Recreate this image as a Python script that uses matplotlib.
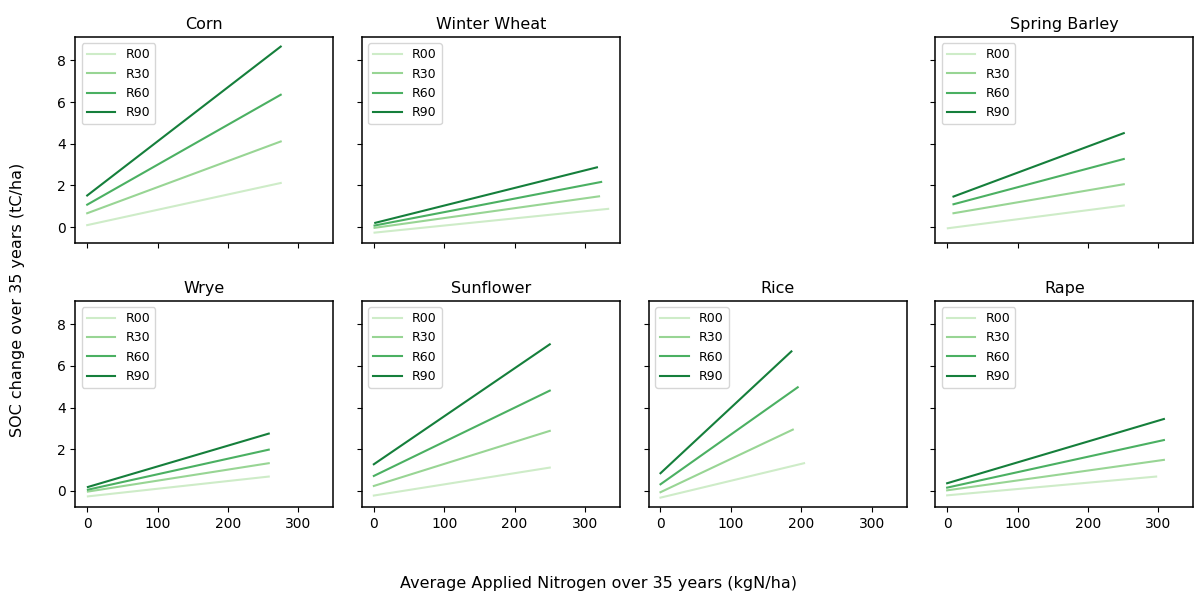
import matplotlib
matplotlib.use("Agg")
import matplotlib.pyplot as plt
import numpy as np

# crops laid out on a 2x4 grid, None = empty panel
crops = ["Corn", "Winter Wheat", None, "Spring Barley",
         "Wrye", "Sunflower", "Rice", "Rape"]
rates = ["R00", "R30", "R60", "R90"]

# x start / end (kgN/ha) per crop and rate
x_start = {
    "Corn":          [0, 0, 0, 0],
    "Winter Wheat":  [1, 1, 1, 2],
    "Spring Barley": [1, 9, 9, 9],
    "Wrye":          [1, 1, 1, 1],
    "Sunflower":     [0, 0, 0, 0],
    "Rice":          [0, 0, 0, 0],
    "Rape":          [0, 0, 0, 0],
}
x_end = {
    "Corn":          [275, 275, 275, 275],
    "Winter Wheat":  [333, 320, 323, 317],
    "Spring Barley": [251, 251, 251, 251],
    "Wrye":          [258, 258, 258, 258],
    "Sunflower":     [250, 250, 250, 250],
    "Rice":          [204, 188, 195, 186],
    "Rape":          [297, 308, 308, 308],
}
# SOC change (tC/ha) at start / end
y_start = {
    "Corn":          [0.10, 0.67, 1.08, 1.52],
    "Winter Wheat":  [-0.26, -0.03, 0.08, 0.21],
    "Spring Barley": [-0.05, 0.67, 1.10, 1.47],
    "Wrye":          [-0.26, -0.03, 0.06, 0.19],
    "Sunflower":     [-0.22, 0.24, 0.72, 1.28],
    "Rice":          [-0.32, -0.06, 0.32, 0.85],
    "Rape":          [-0.21, 0.03, 0.16, 0.37],
}
y_end = {
    "Corn":          [2.12, 4.11, 6.35, 8.66],
    "Winter Wheat":  [0.88, 1.48, 2.17, 2.87],
    "Spring Barley": [1.04, 2.06, 3.27, 4.51],
    "Wrye":          [0.69, 1.33, 1.98, 2.75],
    "Sunflower":     [1.12, 2.88, 4.81, 7.03],
    "Rice":          [1.33, 2.94, 4.97, 6.69],
    "Rape":          [0.69, 1.49, 2.44, 3.45],
}

colors = [plt.cm.Greens(v) for v in [0.22, 0.4, 0.6, 0.8]]

fig, axes = plt.subplots(2, 4, figsize=(11.98, 6.0), dpi=100, sharex=True, sharey=True)
fig.subplots_adjust(left=0.063, right=0.996, top=0.938, bottom=0.155,
                    wspace=0.112, hspace=0.28)

for ax, crop in zip(axes.flat, crops):
    if crop is None:
        ax.axis("off")
        continue
    for i, r in enumerate(rates):
        ax.plot([x_start[crop][i], x_end[crop][i]],
                [y_start[crop][i], y_end[crop][i]],
                color=colors[i], lw=1.5, label=r)
    ax.set_title(crop, fontsize=11.5)
    ax.legend(loc="upper left", fontsize=9, handlelength=2.3)
    ax.tick_params(labelsize=10)
    for s in ax.spines.values():
        s.set_linewidth(1.1)

axes[0, 0].set_xticks([0, 100, 200, 300])
axes[0, 0].set_yticks([0, 2, 4, 6, 8])
for ax in axes[1]:
    ax.xaxis.set_tick_params(labelbottom=True)

fig.supxlabel("Average Applied Nitrogen over 35 years (kgN/ha)", fontsize=11.5, y=0.015)
fig.supylabel("SOC change over 35 years (tC/ha)", fontsize=11.5, x=0.008)

fig.savefig("out.png", dpi=100)
